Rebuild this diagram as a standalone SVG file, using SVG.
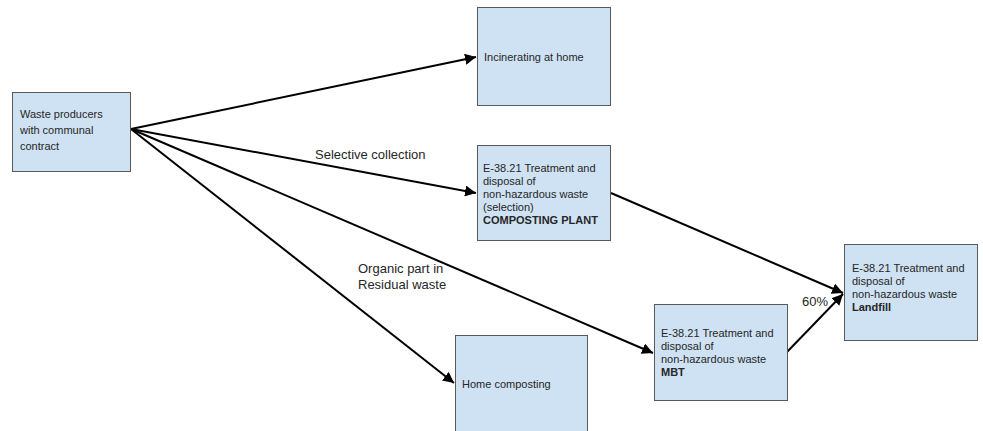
<svg xmlns="http://www.w3.org/2000/svg" width="983" height="431" viewBox="0 0 983 431">
  <defs>
    <marker id="arrow" viewBox="0 0 10 10" refX="10" refY="5" markerWidth="5.5" markerHeight="5.5" markerUnits="strokeWidth" orient="auto">
      <path d="M0,0 L10,5 L0,10 z" fill="#000"/>
    </marker>
    <style>
      .box { fill: #cfe2f3; stroke: #595959; stroke-width: 1; }
      .t { font-family: "Liberation Sans", Arial, sans-serif; font-size: 11px; fill: #262626; }
      .b { font-weight: bold; }
      .lbl { font-family: "Liberation Sans", Arial, sans-serif; font-size: 13px; fill: #262626; }
      .edge { stroke: #000; stroke-width: 2; fill: none; marker-end: url(#arrow); }
    </style>
  </defs>
  <rect width="983" height="431" fill="#fff"/>

  <g id="connectors">
    <line class="edge" x1="131" y1="129" x2="476" y2="57"/>
    <line class="edge" x1="131" y1="129" x2="476" y2="193"/>
    <line class="edge" x1="131" y1="129" x2="653" y2="353"/>
    <line class="edge" x1="131" y1="129" x2="454" y2="383"/>
    <line class="edge" x1="611" y1="193" x2="843" y2="293"/>
    <line class="edge" x1="787" y1="352" x2="843" y2="294"/>
    <text class="lbl" x="315" y="159">Selective collection</text>
    <text class="lbl" x="358" y="273">Organic part in</text>
    <text class="lbl" x="358" y="289">Residual waste</text>
    <text class="lbl" x="802" y="306">60%</text>
  </g>

  <g id="waste-producers">
    <rect class="box" x="12.5" y="92.5" width="118" height="79"/>
    <text class="t" x="20" y="118">Waste producers</text>
    <text class="t" x="20" y="134">with communal</text>
    <text class="t" x="20" y="150">contract</text>
  </g>

  <g id="incinerating">
    <rect class="box" x="477.5" y="7.5" width="133" height="98"/>
    <text class="t" x="484" y="61">Incinerating at home</text>
  </g>

  <g id="composting-plant">
    <rect class="box" x="477.5" y="145.5" width="133" height="95"/>
    <text class="t" x="483" y="172">E-38.21 Treatment and</text>
    <text class="t" x="483" y="185">disposal of</text>
    <text class="t" x="483" y="198">non-hazardous waste</text>
    <text class="t" x="483" y="211">(selection)</text>
    <text class="t b" x="483" y="224">COMPOSTING PLANT</text>
  </g>

  <g id="landfill">
    <rect class="box" x="844.5" y="244.5" width="133" height="96"/>
    <text class="t" x="852" y="272">E-38.21 Treatment and</text>
    <text class="t" x="852" y="285">disposal of</text>
    <text class="t" x="852" y="298">non-hazardous waste</text>
    <text class="t b" x="852" y="311">Landfill</text>
  </g>

  <g id="mbt">
    <rect class="box" x="654.5" y="304.5" width="133" height="96"/>
    <text class="t" x="661" y="337">E-38.21 Treatment and</text>
    <text class="t" x="661" y="350">disposal of</text>
    <text class="t" x="661" y="363">non-hazardous waste</text>
    <text class="t b" x="661" y="376">MBT</text>
  </g>

  <g id="home-composting">
    <rect class="box" x="455.5" y="335.5" width="132" height="100"/>
    <text class="t" x="462" y="388">Home composting</text>
  </g>
</svg>
